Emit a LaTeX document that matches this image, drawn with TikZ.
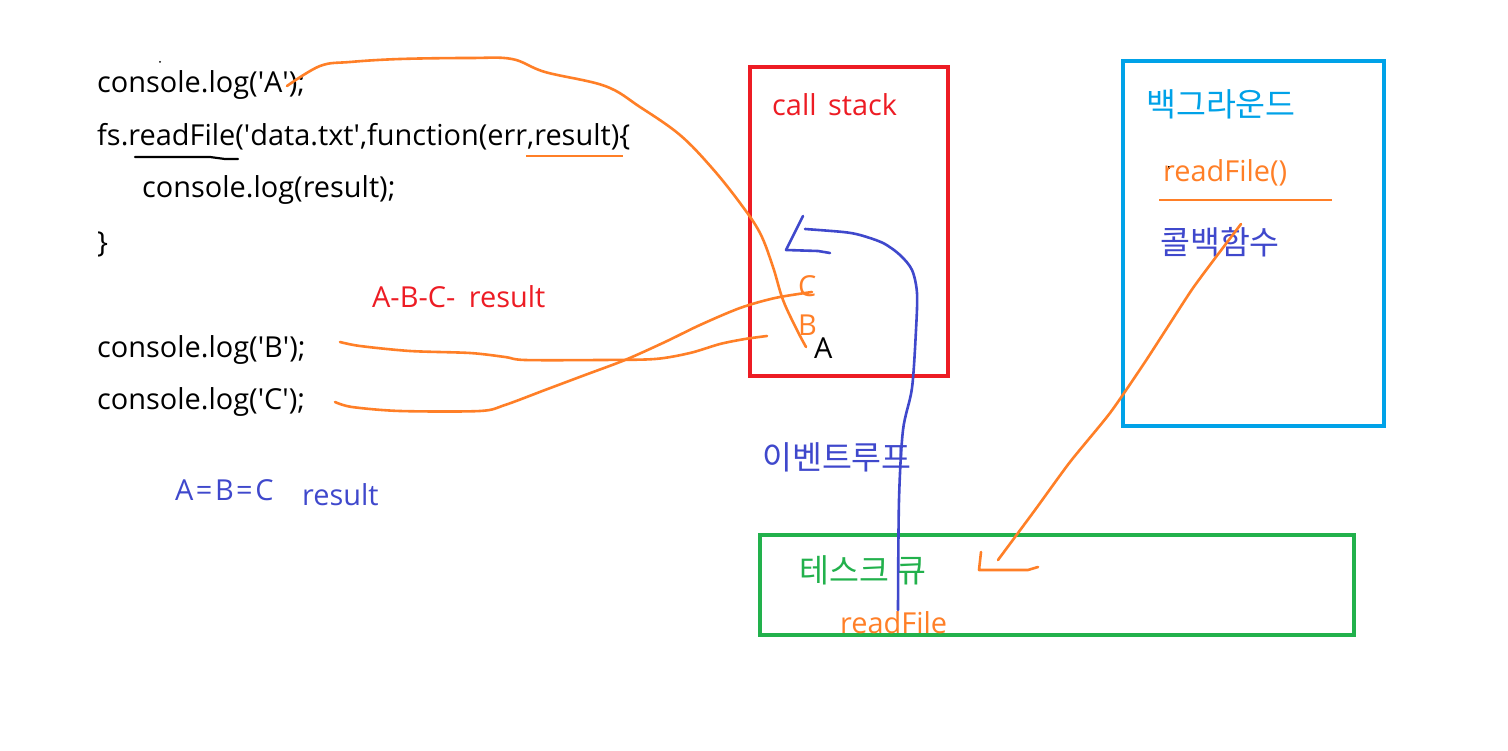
\documentclass[tikz,border=0pt]{standalone}
\usepackage{fontspec}
\setmainfont{Open Sans}
\newfontfamily\kr{Noto Sans CJK KR}
\newcommand{\q}{\textquotesingle}
\definecolor{pred}{HTML}{ED1C24}
\definecolor{porange}{HTML}{FF7F27}
\definecolor{pblue}{HTML}{3F48CC}
\definecolor{pcyan}{HTML}{00A2E8}
\definecolor{pgreen}{HTML}{22B14C}
\tikzset{
  txt/.style={anchor=west, inner sep=0pt, font=\fontsize{28.9}{33}\selectfont},
  krtxt/.style={anchor=west, inner sep=0pt, font=\kr\fontsize{32.5}{38}\selectfont},
  box/.style={draw, line width=4.5pt},
  ostroke/.style={draw=porange, line width=2.6pt, line cap=round, line join=round},
  bstroke/.style={draw=pblue, line width=2.6pt, line cap=round, line join=round},
}
\begin{document}
\begin{tikzpicture}[x=1pt,y=-1pt]
\useasboundingbox (0,0) rectangle (1508,751);
\fill[white] (0,0) rectangle (1508,751);
% code text
\node[txt] (la) at (97,85) {console.log(\q A\q);};
\node[txt] (lr) at (97,137) {fs.readFile(\q data.txt\q,function(err,result)\{};
\node[txt] (lres) at (142,190) {console.log(result);};
\node[txt] (lbr) at (97,244) {\}};
\node[txt, text=pred] (abc) at (372,297) {A-B-C-\hspace{6pt} result};
\node[txt] (lb) at (97,350) {console.log(\q B\q);};
\node[txt] (lc) at (97,402) {console.log(\q C\q);};
\node[txt, text=pblue] (aeq) at (175,490) {A\hspace{2.5pt}=\hspace{2.5pt}B\hspace{2.5pt}=\hspace{2.5pt}C};
\node[txt, text=pblue] (res2) at (302,495) {result};
% stray dots
\fill (160,62) circle (1pt);
\fill (1168,166) rectangle (1170,169);
% underlines
\draw[line width=2.2pt, line cap=round] (135,157) -- (210,157) -- (225,159) -- (238,159);
\draw[draw=porange, line width=2.2pt] (526,156) -- (623,156);
% call stack
\draw[box, draw=pred] (750,67) rectangle (948,376);
\node[txt, text=pred] (cs) at (772,105) {call\hspace{4pt} stack};
\node[txt, text=porange] (sc) at (798,286) {C};
\node[txt, text=porange] (sb) at (798,325) {B};
\node[txt] (sa) at (814,348) {A};
% background
\draw[box, draw=pcyan] (1123,61) rectangle (1384,426);
\node[krtxt, text=pcyan] (bg) at (1146,104) {백그라운드};
\node[txt, text=porange] (rf) at (1163,173) {readFile()};
\draw[draw=porange, line width=2.6pt] (1159,200) -- (1332,200);
\node[krtxt, text=pblue] (cb) at (1160,242) {콜백함수};
% task queue
\draw[box, draw=pgreen] (760,535) rectangle (1354,635);
\node[krtxt, text=pgreen] (tq) at (799,570) {테스크 큐};
\node[txt, text=porange] (rf2) at (840,623) {readFile};
\node[krtxt, text=pblue] (el) at (762,457) {이벤트루프};
% orange curve A
\draw[ostroke] plot[smooth, tension=0.6] coordinates {(287,86) (320,66) (350,62) (400,59) (470,58) (512,59) (545,72) (605,86) (640,107) (680,135) (712,168) (740,203) (760,233) (773,267) (783,300) (797,330) (806,347)};
% orange curve B
\draw[ostroke] plot[smooth, tension=0.5] coordinates {(340,342) (360,346) (410,351) (470,353) (505,357) (525,360) (600,360) (655,359) (690,353) (720,344) (745,339) (767,336)};
% orange curve C
\draw[ostroke] plot[smooth, tension=0.5] coordinates {(335,402) (352,407) (400,411) (480,411) (505,405) (545,390) (585,375) (625,360) (665,342) (700,325) (740,308) (775,298) (812,292)};
% blue event loop
\draw[bstroke] plot[smooth, tension=0.5] coordinates {(898,610) (899,500) (903,430) (912,388) (916,330) (917,293) (912,270) (900,255) (883,243) (860,235) (843,232) (805,229)};
\draw[bstroke] (803,216) -- (786,250) -- (818,251) -- (830,253);
% orange callback to queue
\draw[ostroke] plot[smooth, tension=0.4] coordinates {(1241,224) (1222,249) (1193,288) (1167,328) (1143,365) (1110,413) (1070,462) (1035,510) (998,560)};
\draw[ostroke] (981,552) -- (979,570) -- (1028,570) -- (1038,567);
\end{tikzpicture}
\end{document}
